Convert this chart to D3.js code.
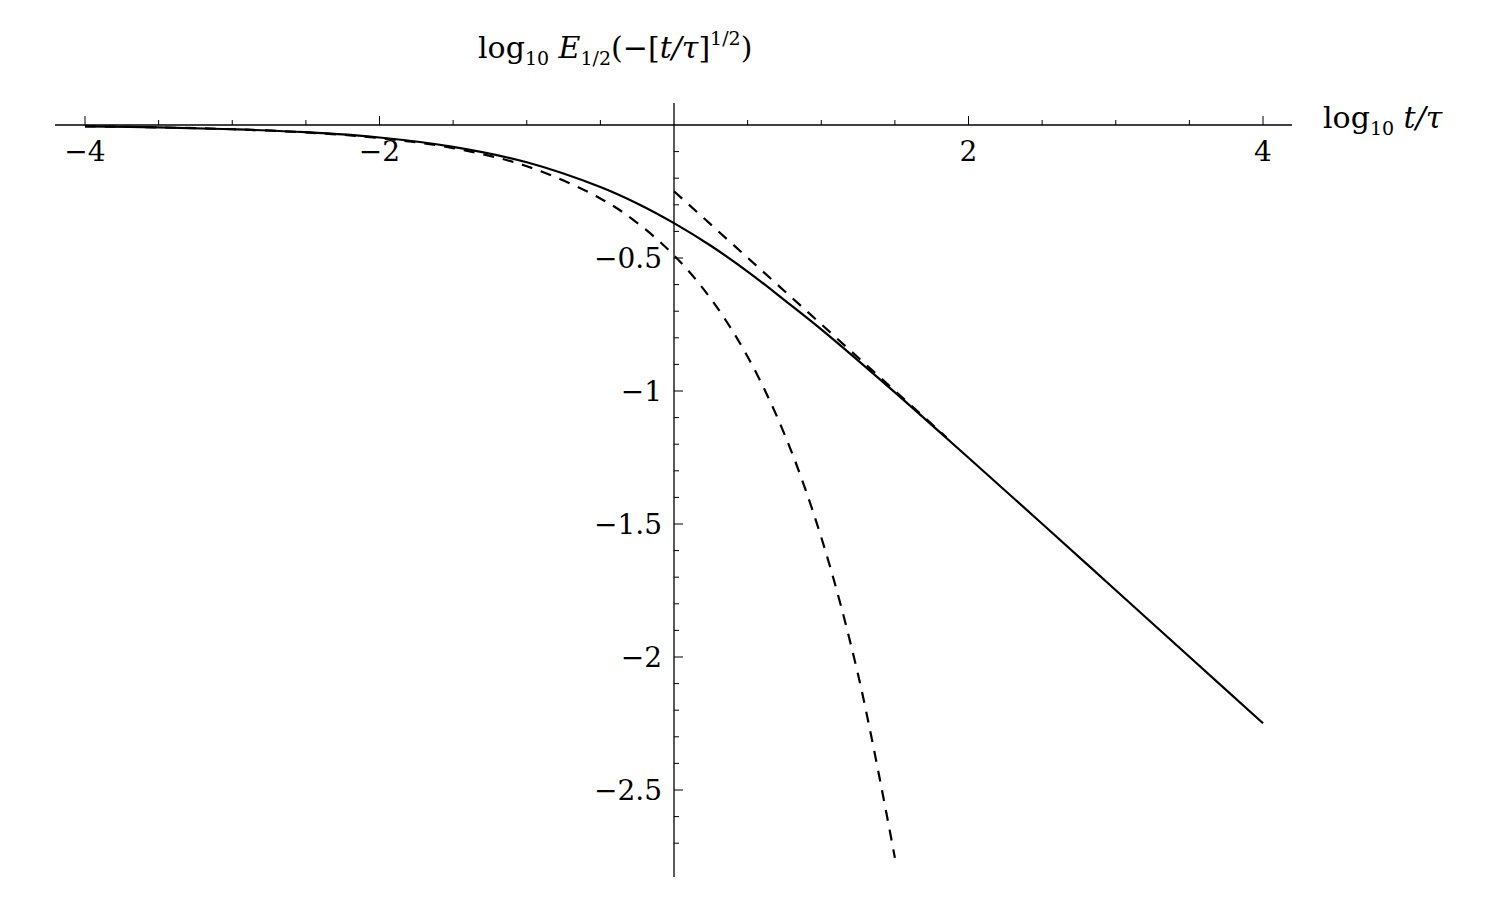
<!DOCTYPE html>
<html><head><meta charset="utf-8">
<script src="https://cdn.jsdelivr.net/npm/d3@7"></script>
<style>body{margin:0;background:#fff}text{font-family:"DejaVu Serif","Liberation Serif",serif;fill:#000}</style>
</head><body><svg id="c" width="1512" height="902"></svg>
<script>
// values (log10 t/tau, log10 E)
const solidX = [-4, -3.5, -3, -2.5, -2, -1.5, -1, -0.5, -0.25, 0, 0.25, 0.5, 0.75, 1, 1.5, 2, 2.5, 3, 3.5, 4];
const solidY = [-0.005, -0.009, -0.016, -0.027, -0.047, -0.082, -0.14, -0.233, -0.295, -0.369, -0.454, -0.551, -0.658, -0.768, -1.005, -1.251, -1.499, -1.749, -1.999, -2.249];
const shortX = [-4, -3.5, -3, -2.5, -2, -1.5, -1, -0.5, -0.25, 0, 0.25, 0.5, 0.75, 1, 1.25, 1.5];
const shortY = [-0.005, -0.009, -0.016, -0.028, -0.049, -0.087, -0.155, -0.276, -0.368, -0.49, -0.653, -0.871, -1.162, -1.55, -2.066, -2.755];
const longX = [0, 1.85];
const longY = [-0.249, -1.174];
const xTicks = [-4, -2, 2, 4];
const yTicks = [-0.5, -1, -1.5, -2, -2.5];

const svg = d3.select("#c");
const x = d3.scaleLinear().domain([-4, 4]).range([85, 1263]);
const y = d3.scaleLinear().domain([0, -2.5]).range([125, 790]);

// axes
svg.append("line").attr("x1", 55).attr("x2", 1292).attr("y1", y(0)).attr("y2", y(0)).attr("stroke", "#000").attr("stroke-width", 1.3);
svg.append("line").attr("x1", x(0)).attr("x2", x(0)).attr("y1", 103).attr("y2", 877).attr("stroke", "#000").attr("stroke-width", 1.3);

// x ticks
d3.range(-4, 4.01, 0.5).filter(v => v !== 0).forEach(v => {
  const major = Number.isInteger(v / 2);
  svg.append("line").attr("x1", x(v)).attr("x2", x(v)).attr("y1", y(0)).attr("y2", y(0) - (major ? 9 : 5)).attr("stroke", "#000");
});
xTicks.forEach(v => svg.append("text").attr("x", x(v)).attr("y", y(0) + 36).attr("text-anchor", "middle").attr("font-size", 28).text(v < 0 ? "\u2212" + (-v) : v));

// y ticks
d3.range(1, 28).map(i => -i / 10).forEach(v => {
  const major = Math.abs(v * 2 - Math.round(v * 2)) < 1e-9;
  svg.append("line").attr("x1", x(0)).attr("x2", x(0) + (major ? 9 : 5)).attr("y1", y(v)).attr("y2", y(v)).attr("stroke", "#000");
});
yTicks.forEach(v => svg.append("text").attr("x", x(0) - 12).attr("y", y(v) + 10).attr("text-anchor", "end").attr("font-size", 28).text("\u2212" + (-v)));

// curves
const line = d3.line().x(d => x(d[0])).y(d => y(d[1])).curve(d3.curveCatmullRom);
svg.append("path").datum(solidX.map((v, i) => [v, solidY[i]])).attr("d", line).attr("fill", "none").attr("stroke", "#000").attr("stroke-width", 2.2);
svg.append("path").datum(shortX.map((v, i) => [v, shortY[i]])).attr("d", line).attr("fill", "none").attr("stroke", "#000").attr("stroke-width", 2.2).attr("stroke-dasharray", "11,9");
svg.append("path").datum(longX.map((v, i) => [v, longY[i]])).attr("d", line).attr("fill", "none").attr("stroke", "#000").attr("stroke-width", 2.2).attr("stroke-dasharray", "11,9");

// labels
const t1 = svg.append("text").attr("x", 478).attr("y", 58).attr("font-size", 30);
t1.append("tspan").text("log");
t1.append("tspan").attr("font-size", 19).attr("dy", 7).text("10");
t1.append("tspan").attr("dy", -7).attr("font-style", "italic").text(" E");
t1.append("tspan").attr("font-size", 19).attr("dy", 7).text("1/2");
t1.append("tspan").attr("dy", -7).text("(\u2212[");
t1.append("tspan").attr("font-style", "italic").text("t/\u03c4");
t1.append("tspan").text("]");
t1.append("tspan").attr("font-size", 19).attr("dy", -13).text("1/2");
t1.append("tspan").attr("dy", 13).text(")");

const t2 = svg.append("text").attr("x", 1323).attr("y", 128).attr("font-size", 30);
t2.append("tspan").text("log");
t2.append("tspan").attr("font-size", 19).attr("dy", 7).text("10");
t2.append("tspan").attr("dy", -7).attr("font-style", "italic").text(" t/\u03c4");
</script></body></html>
